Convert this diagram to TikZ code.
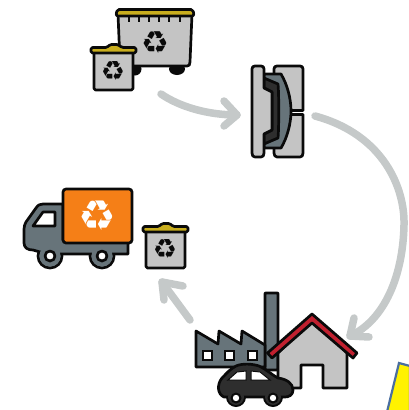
\documentclass[tikz,border=0pt]{standalone}
\usepackage{fontspec}
\newfontfamily\symfont{DejaVu Sans}
\definecolor{slate}{HTML}{67747A}
\definecolor{binbody}{HTML}{C4C4C4}
\definecolor{lid}{HTML}{C9AE1E}
\definecolor{flow}{HTML}{C5C9C9}
\definecolor{ink}{HTML}{0A0A0A}
\definecolor{carbody}{HTML}{2E2E2E}
\definecolor{cargo}{HTML}{F57F17}
\definecolor{roof}{HTML}{C1202F}
\definecolor{cornerblue}{HTML}{4A6EA0}
\tikzset{
  outl/.style={draw=ink,line width=2.7pt,line join=round,line cap=round},
  flowline/.style={draw=flow,line width=7.5pt,line cap=round,line join=round},
  recyc/.style={inner sep=0pt,font=\symfont\fontsize{#1}{#1}\selectfont},
  recyc/.default=24
}
\newcommand{\recsym}{\char"267B}
\begin{document}
\begin{tikzpicture}[x=1pt,y=-1pt]
\useasboundingbox (0,0) rectangle (408,410);
% flow arrows
\coordinate (a1s) at (161,94);
\coordinate (a1e) at (237,115);
\coordinate (a2s) at (315,116);
\coordinate (a2e) at (350,336);
\coordinate (a3s) at (190,320);
\coordinate (a3e) at (162,282);
\path[flowline] (a1s) .. controls (180,107) and (208,115) .. (a1e);
\path[flowline] (224,101) -- (a1e) -- (224,126);
\path[flowline] (a2s) .. controls (385,135) and (405,190) .. (404,225) .. controls (403,275) and (385,320) .. (a2e);
\path[flowline] (354,318) -- (a2e) -- (369,337);
\path[flowline] (a3s) -- (a3e);
\path[flowline] (183,286) -- (a3e) -- (164,300);
% big bin
\fill[ink] (135,69) circle (6.5);
\fill[ink] (177,69) ellipse (8 and 6);
\path[outl,fill=binbody] (118,14) -- (192,14) -- (190,62) .. controls (190,65) and (189,66) .. (187,66) -- (124,66) .. controls (121,66) and (120,65) .. (120,62) -- cycle;
\path[outl,fill=lid,rounded corners=2pt] (116,16) -- (117,9.5) -- (193,9.5) -- (194,16) -- cycle;
\foreach \x in {129,139,149,159,169,180}{\draw[ink,line width=1.8pt] (\x,16) -- (\x,22);}
\node[recyc=31,text=ink] (bigsym) at (155,43) {\recsym};
% small bin 1
\path[outl,fill=binbody,rounded corners=1.5pt] (94,50) rectangle (133,90);
\path[outl,fill=lid,rounded corners=1.5pt] (91,53) -- (91,47.5) -- (107,47.5) -- (110,44.5) -- (118,44.5) -- (122,47.5) -- (136,47.5) -- (136,53) -- cycle;
\node[recyc=27,text=ink] (smallsym) at (113,71) {\recsym};
% press
\path[outl,fill=binbody] (277,66) -- (300,66) .. controls (302,66) and (303,67) .. (303,69) -- (303,110.5) -- (290,110.5) -- (290,114.5) -- (303,114.5) -- (303,153) .. controls (303,155.5) and (302,157) .. (300,157) -- (277,157) .. controls (275,157) and (274,155) .. (274,153) -- (274,69) .. controls (274,67) and (275,66) .. (277,66) -- cycle;
\path[outl,fill=slate] (264,74) -- (281,74) .. controls (287,84) and (291,98) .. (291,111) .. controls (291,124) and (287,138) .. (281,148) -- (264,148) -- cycle;
\path[outl,fill=carbody] (264,78) -- (278,84) .. controls (279,93) and (279,129) .. (278,138) -- (264,144) -- (264,134) -- (272,130) -- (272,92) -- (264,88) -- cycle;
\path[outl,fill=binbody] (255,66) -- (261,66) .. controls (263,66) and (264,67) .. (264,69) -- (264,88) -- (272,92) -- (272,130) -- (264,134) -- (264,153) .. controls (264,155.5) and (263,157) .. (261,157) -- (255,157) .. controls (253,157) and (252,155.5) .. (252,153) -- (252,69) .. controls (252,67) and (253,66) .. (255,66) -- cycle;
% truck
\path[outl,fill=slate] (50,256) circle (12);
\path[outl,fill=slate] (102,256) circle (12);
\path[outl,fill=slate] (63,204) -- (43,204) .. controls (40,204) and (38,205) .. (36,208) -- (26,222) .. controls (25,224) and (24,226) .. (24,229) -- (24,243) .. controls (24,248) and (28,250) .. (33,250) -- (40,252) -- (60,254) -- (128,254) -- (128,240) -- (63,240) -- cycle;
\fill[slate] (50,256) circle (10.6);
\fill[slate] (102,256) circle (10.6);
\path[outl,fill=white] (33,226) -- (55,226) -- (55,212) -- (43,212) -- cycle;
\path[outl,fill=white] (50,256) circle (5);
\path[outl,fill=white] (102,256) circle (5);
\path[outl,fill=cargo,rounded corners=3pt] (63,189) rectangle (132,243);
\node[recyc=42,text=white] (trucksym) at (97,216) {\recsym};
% small bin 2
\path[outl,fill=binbody,rounded corners=1.5pt] (146,229) rectangle (185,268);
\path[outl,fill=lid,rounded corners=1.5pt] (143,232) -- (143,226.5) -- (159,226.5) -- (162,223.5) -- (170,223.5) -- (173,226.5) -- (188,226.5) -- (188,232) -- cycle;
\node[recyc=27,text=ink] (binsym) at (165,249) {\recsym};
% factory
\path[outl,fill=slate,rounded corners=0.5pt] (265,293) -- (278,293) -- (278,370) -- (265,370) -- cycle;
\path[outl,fill=slate] (196,331) -- (218,344) -- (219,331) -- (241,344) -- (242,331) -- (265,345) -- (265,367) -- (196,367) -- cycle;
\foreach \x in {207,229,252}{\path[draw=ink,line width=2pt,fill=white] (\x-4.5,350.5) rectangle (\x+4.5,359.5);}
% house
\path[outl,fill=binbody] (278,353) -- (312,319) -- (347,353) -- (347,388) -- (323,388) -- (323,365) -- (301,365) -- (301,388) -- (278,388) -- cycle;
\path[outl,fill=roof] (267.5,353) -- (312,314) -- (357,353) -- (353,358) -- (312,323) -- (272,358) -- cycle;
% car
\fill[ink] (236,397) circle (10);
\fill[ink] (273,397) circle (10);
\path[outl,fill=carbody] (224,397) .. controls (217,394) and (217,384) .. (222,378) .. controls (226,374) and (230,369) .. (236,366) .. controls (243,363) and (253,364) .. (259,366) .. controls (266,369) and (272,375) .. (278,378) .. controls (286,379) and (293,383) .. (293,390) .. controls (293,395) and (289,397) .. (285,397) -- cycle;
\path[draw=ink,line width=1pt,fill=white] (228,380) -- (237,372) -- (246,371) -- (246,380) -- cycle;
\path[draw=ink,line width=1pt,fill=white] (251,371) -- (260,372) -- (270,380) -- (251,380) -- cycle;
\fill[carbody] (236,397) circle (8);
\fill[carbody] (273,397) circle (8);
\fill[ink] (236,398) circle (5.5);
\fill[white] (236,398) circle (3.2);
\fill[ink] (273,398) circle (5.5);
\fill[white] (273,398) circle (3.2);
% corner shape
\path[draw=cornerblue,line width=2.2pt,fill=yellow] (387,412) -- (399,363) -- (410,366) -- (410,412) -- cycle;
\end{tikzpicture}
\end{document}
